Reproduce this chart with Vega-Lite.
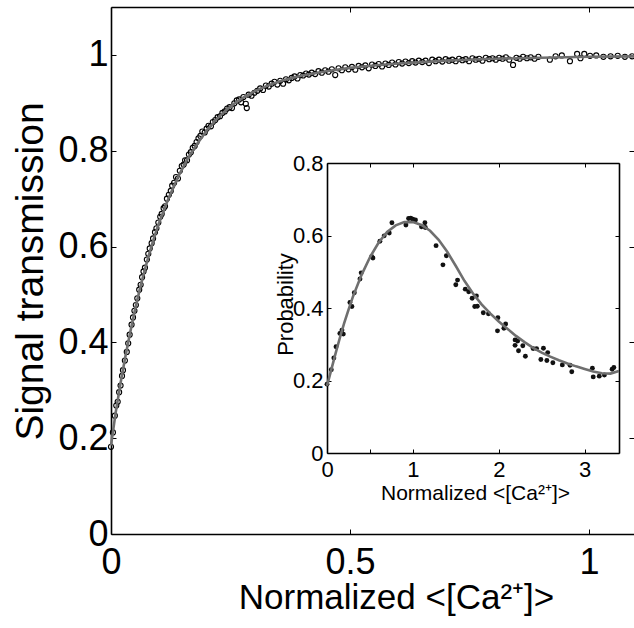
{
  "$schema": "https://vega.github.io/schema/vega-lite/v6.json",
  "width": 523,
  "height": 527,
  "autosize": {"type": "none"},
  "padding": {"left": 111, "top": 7, "right": 0, "bottom": 94},
  "background": "white",
  "config": {
    "view": {"stroke": null},
    "axis": {
      "grid": false,
      "labelFont": "Liberation Sans",
      "titleFont": "Liberation Sans",
      "labelColor": "#000",
      "titleColor": "#000",
      "titleFontWeight": "normal",
      "domainColor": "#000",
      "domainWidth": 1.6,
      "tickColor": "#000",
      "tickWidth": 1,
      "labelFlush": false,
      "labelOverlap": false,
      "labelBound": false
    }
  },
  "datasets": {
    "mainPts": [
      {"x":0,"y":0.182},{"x":0.004,"y":0.212},{"x":0.008,"y":0.247},{"x":0.011,"y":0.268},{"x":0.014,"y":0.276},{"x":0.017,"y":0.296},{"x":0.02,"y":0.31},{"x":0.023,"y":0.33},{"x":0.025,"y":0.342},{"x":0.029,"y":0.362},{"x":0.033,"y":0.38},{"x":0.036,"y":0.398},{"x":0.039,"y":0.416},{"x":0.043,"y":0.437},{"x":0.046,"y":0.452},{"x":0.049,"y":0.466},{"x":0.052,"y":0.478},{"x":0.055,"y":0.492},{"x":0.059,"y":0.51},{"x":0.062,"y":0.52},{"x":0.065,"y":0.536},{"x":0.068,"y":0.548},{"x":0.071,"y":0.556},{"x":0.075,"y":0.573},{"x":0.078,"y":0.585},{"x":0.081,"y":0.596},{"x":0.085,"y":0.607},{"x":0.088,"y":0.617},{"x":0.092,"y":0.63},{"x":0.095,"y":0.638},{"x":0.099,"y":0.65},{"x":0.103,"y":0.662},{"x":0.106,"y":0.668},{"x":0.11,"y":0.68},{"x":0.113,"y":0.684},{"x":0.117,"y":0.7},{"x":0.121,"y":0.708},{"x":0.125,"y":0.716},{"x":0.128,"y":0.727},{"x":0.132,"y":0.733},{"x":0.136,"y":0.745},{"x":0.14,"y":0.742},{"x":0.144,"y":0.758},{"x":0.148,"y":0.768},{"x":0.152,"y":0.771},{"x":0.155,"y":0.78},{"x":0.159,"y":0.78},{"x":0.163,"y":0.792},{"x":0.167,"y":0.797},{"x":0.171,"y":0.806},{"x":0.175,"y":0.81},{"x":0.179,"y":0.818},{"x":0.183,"y":0.826},{"x":0.187,"y":0.831},{"x":0.191,"y":0.84},{"x":0.196,"y":0.838},{"x":0.2,"y":0.846},{"x":0.204,"y":0.852},{"x":0.209,"y":0.851},{"x":0.213,"y":0.86},{"x":0.218,"y":0.864},{"x":0.223,"y":0.87},{"x":0.228,"y":0.872},{"x":0.233,"y":0.879},{"x":0.238,"y":0.882},{"x":0.243,"y":0.888},{"x":0.248,"y":0.891},{"x":0.253,"y":0.889},{"x":0.258,"y":0.899},{"x":0.263,"y":0.905},{"x":0.268,"y":0.907},{"x":0.272,"y":0.901},{"x":0.277,"y":0.912},{"x":0.282,"y":0.898},{"x":0.284,"y":0.889},{"x":0.288,"y":0.917},{"x":0.294,"y":0.915},{"x":0.3,"y":0.921},{"x":0.306,"y":0.925},{"x":0.312,"y":0.93},{"x":0.318,"y":0.927},{"x":0.324,"y":0.936},{"x":0.33,"y":0.934},{"x":0.336,"y":0.94},{"x":0.342,"y":0.944},{"x":0.348,"y":0.938},{"x":0.354,"y":0.946},{"x":0.36,"y":0.94},{"x":0.366,"y":0.949},{"x":0.372,"y":0.947},{"x":0.378,"y":0.952},{"x":0.384,"y":0.955},{"x":0.39,"y":0.951},{"x":0.396,"y":0.958},{"x":0.402,"y":0.957},{"x":0.408,"y":0.961},{"x":0.414,"y":0.959},{"x":0.42,"y":0.963},{"x":0.427,"y":0.96},{"x":0.434,"y":0.966},{"x":0.441,"y":0.963},{"x":0.448,"y":0.968},{"x":0.455,"y":0.965},{"x":0.462,"y":0.97},{"x":0.469,"y":0.958},{"x":0.476,"y":0.972},{"x":0.483,"y":0.968},{"x":0.49,"y":0.974},{"x":0.497,"y":0.97},{"x":0.504,"y":0.975},{"x":0.511,"y":0.969},{"x":0.518,"y":0.977},{"x":0.525,"y":0.974},{"x":0.532,"y":0.978},{"x":0.539,"y":0.972},{"x":0.546,"y":0.98},{"x":0.553,"y":0.977},{"x":0.56,"y":0.981},{"x":0.567,"y":0.976},{"x":0.574,"y":0.982},{"x":0.581,"y":0.979},{"x":0.588,"y":0.984},{"x":0.595,"y":0.98},{"x":0.602,"y":0.985},{"x":0.609,"y":0.982},{"x":0.616,"y":0.986},{"x":0.623,"y":0.983},{"x":0.63,"y":0.987},{"x":0.637,"y":0.984},{"x":0.644,"y":0.988},{"x":0.651,"y":0.985},{"x":0.658,"y":0.988},{"x":0.665,"y":0.983},{"x":0.672,"y":0.99},{"x":0.679,"y":0.987},{"x":0.686,"y":0.99},{"x":0.693,"y":0.986},{"x":0.7,"y":0.991},{"x":0.707,"y":0.988},{"x":0.714,"y":0.99},{"x":0.721,"y":0.987},{"x":0.728,"y":0.992},{"x":0.735,"y":0.989},{"x":0.742,"y":0.991},{"x":0.749,"y":0.987},{"x":0.756,"y":0.993},{"x":0.763,"y":0.99},{"x":0.77,"y":0.992},{"x":0.777,"y":0.988},{"x":0.784,"y":0.994},{"x":0.791,"y":0.991},{"x":0.798,"y":0.993},{"x":0.805,"y":0.99},{"x":0.812,"y":0.994},{"x":0.819,"y":0.992},{"x":0.826,"y":0.995},{"x":0.833,"y":0.99},{"x":0.841,"y":0.979},{"x":0.848,"y":0.994},{"x":0.855,"y":0.992},{"x":0.862,"y":0.996},{"x":0.87,"y":0.993},{"x":0.878,"y":0.995},{"x":0.886,"y":0.992},{"x":0.894,"y":0.996},{"x":0.918,"y":0.99},{"x":0.93,"y":0.997},{"x":0.943,"y":0.999},{"x":0.96,"y":0.987},{"x":0.975,"y":1.002},{"x":0.982,"y":0.993},{"x":0.99,"y":1.002},{"x":1.002,"y":0.998},{"x":1.015,"y":0.999},{"x":1.03,"y":0.996},{"x":1.045,"y":0.997},{"x":1.06,"y":0.998},{"x":1.075,"y":0.996},{"x":1.09,"y":0.997}
    ],
    "mainCurve": [
      {"x":0,"y":0.185},{"x":0.01,"y":0.255},{"x":0.02,"y":0.315},{"x":0.03,"y":0.37},{"x":0.04,"y":0.42},{"x":0.05,"y":0.467},{"x":0.06,"y":0.51},{"x":0.07,"y":0.549},{"x":0.08,"y":0.585},{"x":0.09,"y":0.618},{"x":0.1,"y":0.648},{"x":0.12,"y":0.7},{"x":0.14,"y":0.745},{"x":0.16,"y":0.783},{"x":0.18,"y":0.814},{"x":0.2,"y":0.842},{"x":0.22,"y":0.865},{"x":0.24,"y":0.884},{"x":0.26,"y":0.9},{"x":0.28,"y":0.913},{"x":0.3,"y":0.924},{"x":0.33,"y":0.937},{"x":0.36,"y":0.947},{"x":0.4,"y":0.957},{"x":0.45,"y":0.966},{"x":0.5,"y":0.973},{"x":0.55,"y":0.978},{"x":0.6,"y":0.982},{"x":0.65,"y":0.985},{"x":0.7,"y":0.988},{"x":0.8,"y":0.992},{"x":0.9,"y":0.994},{"x":1.0,"y":0.996},{"x":1.094,"y":0.997}
    ],
    "insetPts": [
      {"x":0.0,"y":0.19},{"x":0.05,"y":0.23},{"x":0.08,"y":0.262},{"x":0.105,"y":0.293},{"x":0.15,"y":0.33},{"x":0.174,"y":0.339},{"x":0.19,"y":0.328},{"x":0.267,"y":0.415},{"x":0.29,"y":0.404},{"x":0.318,"y":0.442},{"x":0.384,"y":0.48},{"x":0.398,"y":0.497},{"x":0.52,"y":0.542},{"x":0.535,"y":0.538},{"x":0.616,"y":0.584},{"x":0.666,"y":0.599},{"x":0.725,"y":0.607},{"x":0.756,"y":0.635},{"x":0.919,"y":0.629},{"x":0.95,"y":0.647},{"x":0.975,"y":0.648},{"x":1.0,"y":0.645},{"x":1.03,"y":0.643},{"x":1.1,"y":0.624},{"x":1.14,"y":0.635},{"x":1.145,"y":0.622},{"x":1.27,"y":0.572},{"x":1.35,"y":0.519},{"x":1.39,"y":0.544},{"x":1.5,"y":0.464},{"x":1.52,"y":0.477},{"x":1.61,"y":0.452},{"x":1.65,"y":0.445},{"x":1.69,"y":0.427},{"x":1.72,"y":0.404},{"x":1.74,"y":0.433},{"x":1.75,"y":0.405},{"x":1.82,"y":0.387},{"x":1.88,"y":0.384},{"x":1.99,"y":0.373},{"x":1.985,"y":0.337},{"x":2.06,"y":0.344},{"x":2.08,"y":0.356},{"x":2.19,"y":0.312},{"x":2.22,"y":0.309},{"x":2.19,"y":0.297},{"x":2.23,"y":0.282},{"x":2.28,"y":0.296},{"x":2.31,"y":0.267},{"x":2.4,"y":0.288},{"x":2.44,"y":0.288},{"x":2.49,"y":0.258},{"x":2.52,"y":0.289},{"x":2.57,"y":0.277},{"x":2.56,"y":0.255},{"x":2.63,"y":0.249},{"x":2.74,"y":0.243},{"x":2.83,"y":0.242},{"x":2.85,"y":0.224},{"x":3.09,"y":0.234},{"x":3.1,"y":0.21},{"x":3.17,"y":0.212},{"x":3.23,"y":0.215},{"x":3.32,"y":0.231},{"x":3.34,"y":0.236}
    ],
    "insetCurve": [
      {"x":0,"y":0.185},{"x":0.05,"y":0.23},{"x":0.1,"y":0.275},{"x":0.15,"y":0.318},{"x":0.2,"y":0.358},{"x":0.25,"y":0.395},{"x":0.3,"y":0.43},{"x":0.4,"y":0.49},{"x":0.5,"y":0.54},{"x":0.6,"y":0.58},{"x":0.7,"y":0.61},{"x":0.8,"y":0.628},{"x":0.9,"y":0.637},{"x":1.0,"y":0.637},{"x":1.1,"y":0.629},{"x":1.2,"y":0.613},{"x":1.3,"y":0.588},{"x":1.4,"y":0.555},{"x":1.5,"y":0.516},{"x":1.6,"y":0.475},{"x":1.7,"y":0.44},{"x":1.8,"y":0.41},{"x":1.9,"y":0.385},{"x":2.0,"y":0.363},{"x":2.1,"y":0.343},{"x":2.2,"y":0.323},{"x":2.3,"y":0.306},{"x":2.4,"y":0.29},{"x":2.5,"y":0.277},{"x":2.6,"y":0.266},{"x":2.7,"y":0.256},{"x":2.8,"y":0.247},{"x":2.9,"y":0.239},{"x":3.0,"y":0.232},{"x":3.1,"y":0.225},{"x":3.2,"y":0.22},{"x":3.3,"y":0.219},{"x":3.4,"y":0.226}
    ]
  },
  "layer": [
    {
      "data": {"name": "mainPts"},
      "mark": {"type": "point", "filled": false, "stroke": "#000", "strokeWidth": 1.1, "size": 26, "opacity": 1},
      "encoding": {
        "x": {"field": "x", "type": "quantitative", "scale": {"domain": [0, 1.094], "nice": false, "zero": false},
          "axis": {"orient": "bottom", "values": [0, 0.5, 1], "format": "~g", "tickSize": -5, "labelPadding": 44, "labelFontSize": 36, "labelBaseline": "alphabetic",
            "title": "Normalized <[Ca²⁺]>", "titleFontSize": 35, "titleX": 285, "titleY": 74, "titleBaseline": "alphabetic", "titleAlign": "center"}},
        "y": {"field": "y", "type": "quantitative", "scale": {"domain": [0, 1.1], "nice": false, "zero": false},
          "axis": {"orient": "left", "values": [0, 0.2, 0.4, 0.6, 0.8, 1], "format": "~g", "tickSize": -5, "labelPadding": 8, "labelFontSize": 36, "labelBaseline": "middle",
            "title": "Signal transmission", "titleFontSize": 39, "titleX": -69, "titleY": 264, "titleBaseline": "alphabetic", "titleAlign": "center", "titleAngle": 270}}
      }
    },
    {
      "data": {"name": "mainCurve"},
      "mark": {"type": "line", "color": "#6f6f6f", "strokeWidth": 2.6},
      "encoding": {
        "x": {"field": "x", "type": "quantitative", "scale": {"domain": [0, 1.094], "nice": false, "zero": false},
          "axis": {"orient": "top", "values": [0, 0.5, 1], "labels": false, "tickSize": -5, "title": null}},
        "y": {"field": "y", "type": "quantitative", "scale": {"domain": [0, 1.1], "nice": false, "zero": false},
          "axis": {"orient": "right", "values": [0.2, 0.4, 0.6, 0.8, 1], "labels": false, "domain": false, "tickSize": -5, "title": null}}
      }
    },
    {
      "data": {"name": "insetPts"},
      "mark": {"type": "circle", "color": "#111", "size": 24, "opacity": 1},
      "encoding": {
        "x": {"field": "x", "type": "quantitative", "scale": {"domain": [0, 3.4], "range": [216, 508], "nice": false, "zero": false},
          "axis": {"orient": "bottom", "offset": -81, "values": [0, 0.5, 1, 2, 3], "labelExpr": "datum.value % 1 === 0 ? datum.label : ''", "format": "~g", "tickSize": -4, "labelPadding": 27, "labelFontSize": 22, "labelBaseline": "alphabetic",
            "title": "Normalized <[Ca²⁺]>", "titleFontSize": 21, "titleX": 364, "titleY": 46, "titleBaseline": "alphabetic", "titleAlign": "center"}},
        "y": {"field": "y", "type": "quantitative", "scale": {"domain": [0, 0.8], "range": [446, 156], "nice": false, "zero": false},
          "axis": {"orient": "left", "offset": -216, "values": [0, 0.2, 0.4, 0.6, 0.8], "format": "~g", "tickSize": -4, "labelPadding": 8, "labelFontSize": 22, "labelBaseline": "middle",
            "title": "Probability", "titleFontSize": 22, "titleX": -35, "titleY": 297, "titleBaseline": "alphabetic", "titleAlign": "center", "titleAngle": 270}}
      }
    },
    {
      "data": {"name": "insetCurve"},
      "mark": {"type": "line", "color": "#6f6f6f", "strokeWidth": 2.6},
      "encoding": {
        "x": {"field": "x", "type": "quantitative", "scale": {"domain": [0, 3.4], "range": [216, 508], "nice": false, "zero": false},
          "axis": {"orient": "top", "offset": -156, "values": [0, 0.5, 1, 2, 3], "labels": false, "tickSize": -4, "title": null}},
        "y": {"field": "y", "type": "quantitative", "scale": {"domain": [0, 0.8], "range": [446, 156], "nice": false, "zero": false},
          "axis": {"orient": "right", "offset": -15, "values": [0, 0.2, 0.4, 0.6, 0.8], "labels": false, "tickSize": -4, "title": null}}
      }
    }
  ],
  "resolve": {"scale": {"x": "independent", "y": "independent"}}
}
